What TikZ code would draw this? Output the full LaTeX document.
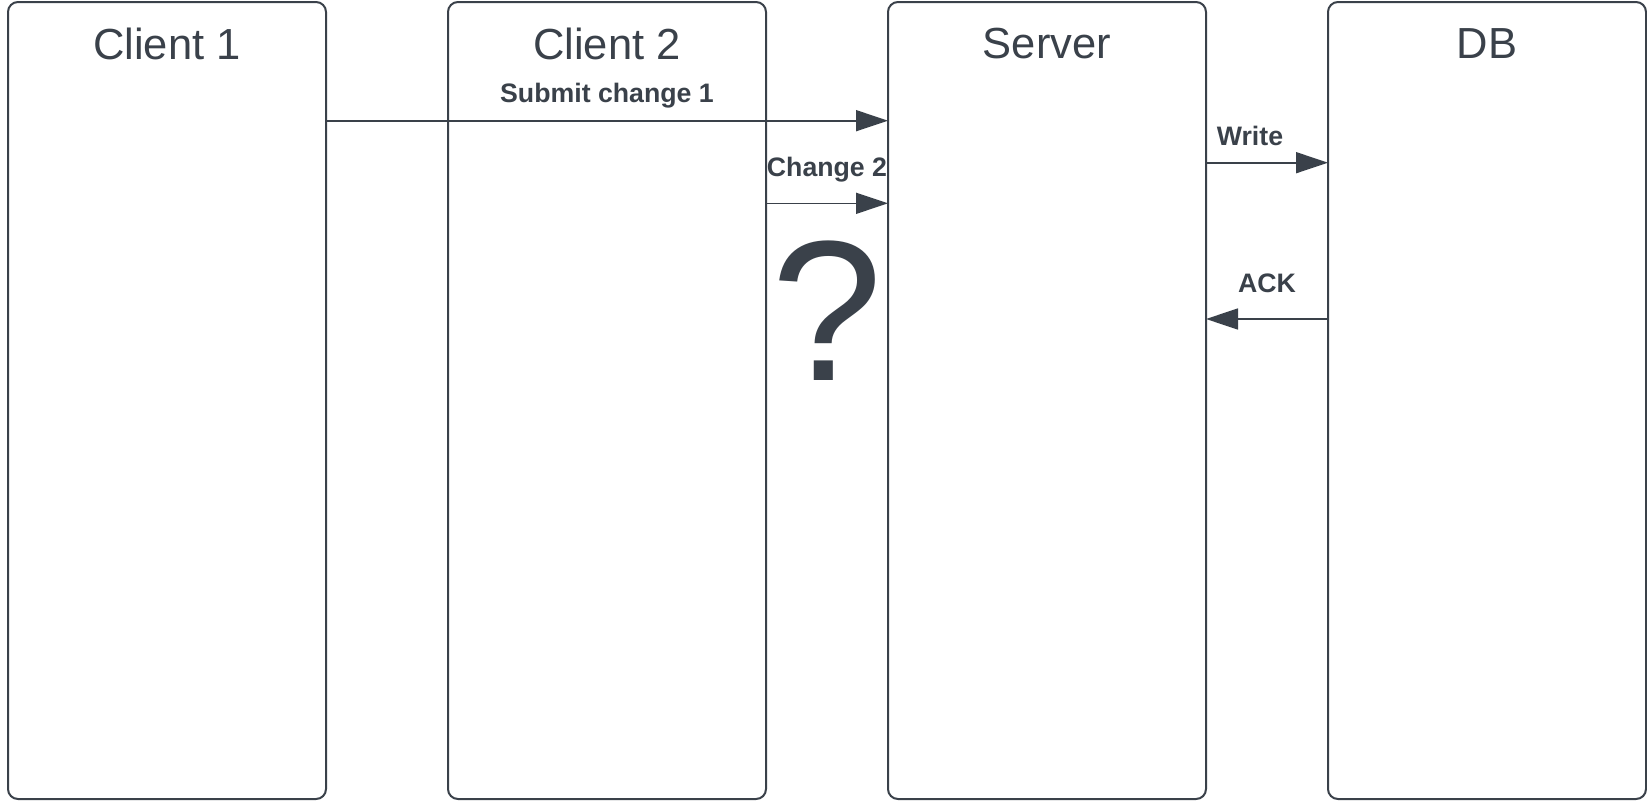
\documentclass[tikz,border=0pt]{standalone}
\usepackage{fontspec}
\setmainfont{Liberation Sans}
\usetikzlibrary{arrows.meta}
\definecolor{ink}{HTML}{3A414A}
\begin{document}
\begin{tikzpicture}[x=1pt,y=-1pt,
  lane/.style={draw=ink,line width=2pt,rounded corners=10pt,minimum width=318pt,minimum height=797pt,inner sep=0pt,outer sep=0pt,fill=white},
  title/.style={text=ink,font=\fontsize{43.5}{48}\selectfont,inner sep=0pt},
  lbl/.style={text=ink,font=\fontsize{26.7}{30}\selectfont\bfseries,inner sep=0pt},
  msg/.style={draw=ink,line width=1.6pt,-{Triangle[length=32pt,width=21pt]}}]
\useasboundingbox (0,0) rectangle (1647,803);
\node[lane] (c1) at (167,400.5) {};
\node[lane] (c2) at (607,400.5) {};
\node[lane] (srv) at (1047,400.5) {};
\node[lane] (db) at (1487,400.5) {};
\node[title] (c1t) at (167,44) {Client 1};
\node[title] (c2t) at (607,44) {Client 2};
\node[title] (srvt) at (1047,44) {Server};
\node[title] (dbt) at (1487,44) {DB};
\draw[msg] (c1.east |- 0,120.7) -- (srv.west |- 0,120.7);
\node[lbl] (l1) at (607,96) {Submit change 1};
\draw[msg] (c2.east |- 0,203.3) -- (srv.west |- 0,203.3);
\node[lbl] (l2) at (827,170) {Change 2};
\draw[msg] (srv.east |- 0,162.7) -- (db.west |- 0,162.7);
\node[lbl] (l3) at (1250,136) {Write};
\draw[msg] (db.west |- 0,319) -- (srv.east |- 0,319);
\node[lbl] (l4) at (1267,283) {ACK};
\node[text=ink,font=\fontsize{200}{200}\selectfont,inner sep=0pt,anchor=base] (q) at (827,380) {?};
\end{tikzpicture}
\end{document}
